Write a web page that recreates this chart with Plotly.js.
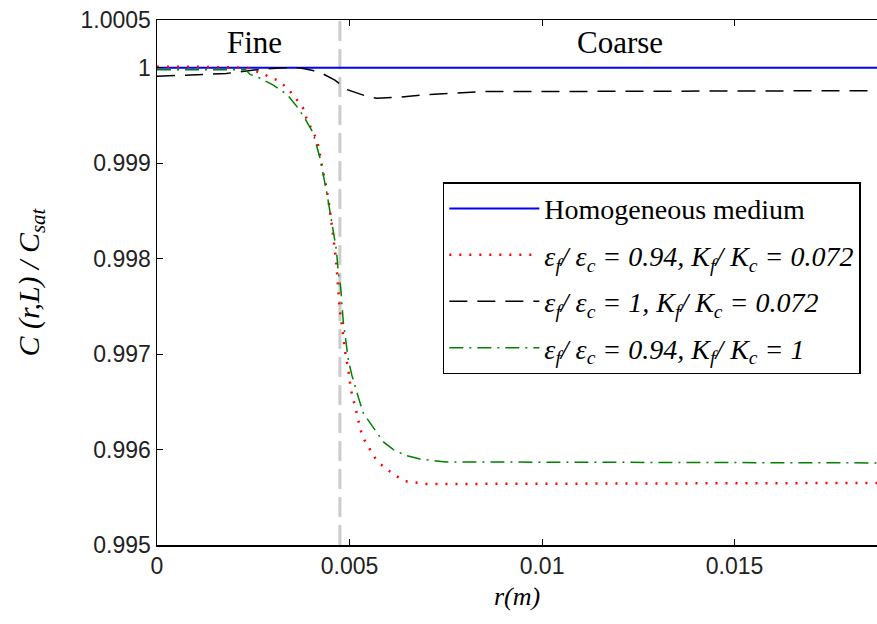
<!DOCTYPE html>
<html>
<head>
<meta charset="utf-8">
<script src="https://cdn.plot.ly/plotly-3.0.1.min.js"></script>
<style>html,body{margin:0;padding:0;background:#fff;}#chart{width:877px;height:624px;}</style>
</head>
<body>
<div id="chart"></div>
<script>
// Homogeneous medium
const rHomo = [0, 0.0187];
const cHomo = [1.0, 1.0];

// eps_f/eps_c = 0.94, K_f/K_c = 0.072 (red dotted)
const rRed = [0, 0.0011, 0.00234, 0.0026, 0.00312, 0.00338, 0.00364, 0.00379, 0.0039, 0.00403, 0.00416, 0.00431, 0.00441, 0.00449, 0.00456, 0.00462, 0.00467, 0.00471, 0.00475, 0.00482, 0.00488, 0.00497, 0.00504, 0.00517, 0.00529, 0.0054, 0.00555, 0.00571, 0.00595, 0.00618, 0.00644, 0.00673, 0.00699, 0.0080, 0.0187];
const cRed = [1.00001, 1.00001, 1.0, 0.99996, 0.99987, 0.99979, 0.99966, 0.99958, 0.99945, 0.99934, 0.99924, 0.99892, 0.99872, 0.99851, 0.9983, 0.99809, 0.99788, 0.99767, 0.99746, 0.99725, 0.99704, 0.99683, 0.99662, 0.99641, 0.9962, 0.99609, 0.99599, 0.99588, 0.9958, 0.99573, 0.99567, 0.99565, 0.99564, 0.99564, 0.99565];

// eps_f/eps_c = 1, K_f/K_c = 0.072 (black dashed)
const rBlack = [0, 0.0011, 0.0018, 0.0026, 0.0033, 0.0037, 0.00405, 0.00429, 0.00462, 0.00494, 0.00545, 0.00571, 0.00623, 0.00709, 0.00769, 0.00847, 0.00925, 0.0187];
const cBlack = [0.99991, 0.99993, 0.99994, 0.99998, 1.0, 1.0, 0.99997, 0.99994, 0.99987, 0.99977, 0.9997, 0.99968, 0.99969, 0.99972, 0.99973, 0.99975, 0.99975, 0.99976];

// eps_f/eps_c = 0.94, K_f/K_c = 1 (green dash-dot)
const rGreen = [0, 0.0023, 0.00242, 0.00268, 0.00301, 0.00338, 0.00364, 0.00384, 0.00405, 0.00423, 0.00441, 0.00449, 0.00458, 0.00466, 0.00471, 0.00477, 0.00484, 0.00492, 0.00497, 0.00506, 0.00517, 0.00525, 0.00536, 0.00553, 0.00571, 0.00588, 0.00614, 0.00644, 0.00683, 0.0075, 0.0187];
const cGreen = [0.99998, 0.99998, 0.99993, 0.99989, 0.99982, 0.99972, 0.99959, 0.99947, 0.99932, 0.99906, 0.99869, 0.99851, 0.99827, 0.99809, 0.99785, 0.9977, 0.99733, 0.99707, 0.99694, 0.99678, 0.99662, 0.99652, 0.99638, 0.99628, 0.99617, 0.99608, 0.996, 0.99594, 0.9959, 0.99587, 0.99586];

const xTicks = [0, 0.005, 0.01, 0.015];
const xTickText = ['0', '0.005', '0.01', '0.015'];
const yTicks = [0.995, 0.996, 0.997, 0.998, 0.999, 1.0, 1.0005];
const yTickText = ['0.995', '0.996', '0.997', '0.998', '0.999', '1', '1.0005'];

const interfaceR = 0.00475;
const regionLabels = ['Fine', 'Coarse'];
const regionLabelX = [0.00252, 0.01203];
const regionLabelY = 1.00026;

const names = [
  'Homogeneous medium',
  '<i>ε<sub>f</sub>/ ε<sub>c</sub> = 0.94, K<sub>f</sub>/ K<sub>c</sub> = 0.072</i>',
  '<i>ε<sub>f</sub>/ ε<sub>c</sub> = 1, K<sub>f</sub>/ K<sub>c</sub> = 0.072</i>',
  '<i>ε<sub>f</sub>/ ε<sub>c</sub> = 0.94, K<sub>f</sub>/ K<sub>c</sub> = 1</i>'
];

const traces = [
  {x: rHomo, y: cHomo, name: names[0], legendgroup: 'a', mode: 'lines', line: {color: '#0000ff', width: 2}},
  {x: rRed, y: cRed, name: names[1], legendgroup: 'b', mode: 'lines', line: {color: '#ff0000', width: 2.5, dash: '2px,8px'}},
  {x: rBlack, y: cBlack, name: names[2], legendgroup: 'c', mode: 'lines', line: {color: '#000000', width: 1.5, dash: '18px,10px'}},
  {x: rGreen, y: cGreen, name: names[3], legendgroup: 'd', mode: 'lines', line: {color: '#008000', width: 1.5, dash: '14px,6px,2px,6px'}}
];

const layout = {
  width: 877, height: 624,
  margin: {l: 157, r: 0, t: 20, b: 79},
  paper_bgcolor: '#ffffff', plot_bgcolor: '#ffffff',
  showlegend: true,
  font: {family: 'Liberation Sans, sans-serif', color: '#000'},
  xaxis: {
    range: [0, 0.0187], tickvals: xTicks, ticktext: xTickText,
    ticks: 'inside', ticklen: 6, tickcolor: '#000', showline: true, linecolor: '#000', linewidth: 1.5,
    mirror: 'ticks', showgrid: false, zeroline: false,
    tickfont: {family: 'Liberation Sans, sans-serif', size: 23, color: '#222'},
    title: {text: '<i>r(m)</i>', font: {family: 'Liberation Serif, serif', size: 26}, standoff: 8}
  },
  yaxis: {
    range: [0.995, 1.0005], tickvals: yTicks, ticktext: yTickText,
    ticks: 'inside', ticklen: 6, tickcolor: '#000', showline: true, linecolor: '#000', linewidth: 1.5,
    mirror: false, showgrid: false, zeroline: false,
    tickfont: {family: 'Liberation Sans, sans-serif', size: 23, color: '#222'},
    title: {text: '<i>C (r,L) / C<sub>sat</sub></i>', font: {family: 'Liberation Serif, serif', size: 30}, standoff: 32}
  },
  legend: {
    x: 0.397, y: 0.691, xanchor: 'left', yanchor: 'top',
    bgcolor: '#ffffff', bordercolor: '#000', borderwidth: 1.5,
    font: {family: 'Liberation Serif, serif', size: 28, color: '#000'},
    itemwidth: 90, tracegroupgap: 7, traceorder: 'grouped'
  },
  shapes: [{
    type: 'line', xref: 'x', yref: 'paper', x0: interfaceR, x1: interfaceR, y0: 0, y1: 1,
    line: {color: '#cccccc', width: 3, dash: '20px,8px'}, layer: 'below'
  }],
  annotations: regionLabels.map((t, i) => ({
    x: regionLabelX[i], y: regionLabelY, xref: 'x', yref: 'y', text: t, showarrow: false,
    font: {family: 'Liberation Serif, serif', size: 31, color: '#000'}
  }))
};

Plotly.newPlot('chart', traces, layout, {displayModeBar: false, staticPlot: true});
</script>
</body>
</html>
